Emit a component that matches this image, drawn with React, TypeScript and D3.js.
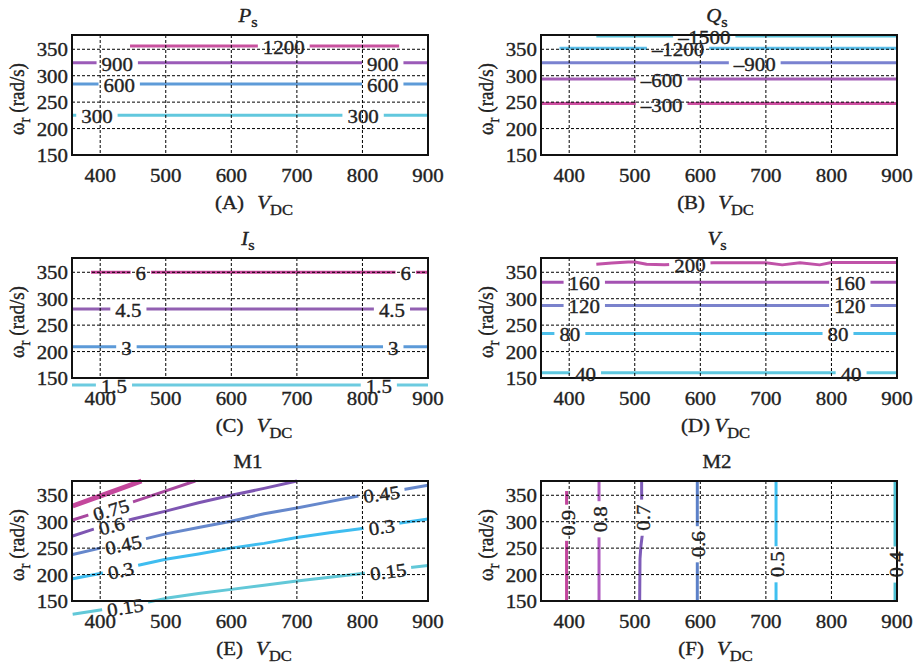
import React from 'react';
import * as d3 from 'd3';

// ---------- shared axes ----------
const X_DOMAIN: [number, number] = [357, 900];
const Y_DOMAIN: [number, number] = [150, 377];
const X_TICKS = [400, 500, 600, 700, 800, 900];
const Y_TICKS = [150, 200, 250, 300, 350];

type Pt = [number, number];
type Contour = { level: number; points: Pt[]; labelsAt: number[] };

// ---------- (A) Ps ----------
const PS_CONTOURS: Contour[] = [
  { level: 1200, points: [[445.5, 356], [856, 356]], labelsAt: [680] },
  { level: 900, points: [[357, 324.6], [900, 324.6]], labelsAt: [426, 831] },
  { level: 600, points: [[357, 284.3], [900, 284.3]], labelsAt: [429, 831] },
  { level: 300, points: [[357, 225.1], [900, 225.1]], labelsAt: [395, 801] },
];
// ---------- (B) Qs ----------
const QS_CONTOURS: Contour[] = [
  { level: -1500, points: [[441.4, 375.1], [900, 375.1]], labelsAt: [606] },
  { level: -1200, points: [[385.2, 351.8], [900, 351.8]], labelsAt: [566] },
  { level: -900, points: [[357, 324.6], [900, 324.6]], labelsAt: [683] },
  { level: -600, points: [[357, 293.9], [900, 293.9]], labelsAt: [541] },
  { level: -300, points: [[357, 247.2], [900, 247.2]], labelsAt: [541] },
];
// ---------- (C) Is ----------
const IS_CONTOURS: Contour[] = [
  { level: 6, points: [[386, 350], [900, 350]], labelsAt: [462, 866] },
  { level: 4.5, points: [[357, 280.3], [900, 280.3]], labelsAt: [443, 845] },
  { level: 3, points: [[357, 209], [900, 209]], labelsAt: [440, 847] },
  { level: 1.5, points: [[357, 136.8], [900, 136.8]], labelsAt: [421, 825] },
];
// ---------- (D) Vs ----------
const VS_CONTOURS: Contour[] = [
  {
    level: 200,
    points: [[441.4, 365], [465, 367.5], [490, 369.5], [500, 369.5], [518, 365], [545, 364], [584, 366], [620, 368], [700, 368],
      [725, 364], [752, 368], [782, 364], [800, 368.5], [900, 368.5]],
    labelsAt: [584],
  },
  { level: 160, points: [[357, 331], [900, 331]], labelsAt: [423, 828] },
  { level: 120, points: [[357, 287.3], [900, 287.3]], labelsAt: [423, 828] },
  { level: 80, points: [[357, 234.3], [900, 234.3]], labelsAt: [401, 810] },
  { level: 40, points: [[357, 160], [900, 160]], labelsAt: [425, 830] },
];
// ---------- (E) M1 ----------
const M1_CONTOURS: Contour[] = [
  { level: 0.9, points: [[358, 329.7], [410, 353], [463, 377]], labelsAt: [] },
  { level: 0.75, points: [[358, 303.3], [387.5, 314.7], [445.5, 335.5], [491, 354.4], [545, 377]], labelsAt: [416] },
  { level: 0.6, points: [[358, 273], [390, 286], [450, 305], [500, 320], [550, 336], [600, 350], [650, 363], [700, 377]], labelsAt: [417] },
  {
    level: 0.45,
    points: [[358, 238], [400, 250], [470, 268], [500, 277], [550, 289], [600, 301], [650, 315], [700, 326], [750, 338], [800, 350], [850, 358], [900, 369]],
    labelsAt: [435, 829],
  },
  {
    level: 0.3,
    points: [[358, 192], [400, 202], [460, 218], [500, 229], [550, 239], [600, 250], [650, 259], [700, 270], [750, 279], [800, 287], [850, 296], [900, 305]],
    labelsAt: [431, 829],
  },
  {
    level: 0.15,
    points: [[358, 125], [400, 133], [440, 141], [470, 147], [500, 155], [550, 164], [600, 172], [650, 180], [700, 188], [750, 195], [800, 202], [850, 210], [900, 217]],
    labelsAt: [438, 839],
  },
];
// ---------- (F) M2 ----------
const M2_CONTOURS: Contour[] = [
  { level: 0.9, points: [[396, 150], [396, 358]], labelsAt: [298] },
  { level: 0.8, points: [[445.5, 150], [445.5, 377]], labelsAt: [304.6] },
  { level: 0.7, points: [[507.5, 150], [508, 230], [509.5, 255], [511.5, 275], [510.5, 300], [510.5, 377]], labelsAt: [307.6] },
  { level: 0.6, points: [[595.4, 150], [595.4, 377]], labelsAt: [257.3] },
  { level: 0.5, points: [[715.5, 150], [715.5, 377]], labelsAt: [219.5] },
  { level: 0.4, points: [[897, 150], [897, 377]], labelsAt: [219] },
];

// ---------- styles ----------
const PS_COLORS = ['#c8509e', '#9b5bb8', '#5e9bd8', '#62c8de'];
const QS_COLORS = ['#5cc3d9', '#5bbfea', '#7a82d0', '#a35cb5', '#cc4ea0'];
const IS_COLORS = ['#c8449a', '#9260b2', '#5c9ad8', '#6ccbe0'];
const VS_COLORS = ['#c052a8', '#a452b2', '#7a82cc', '#4dbfea', '#5ec8e0'];
const M1_COLORS = ['#c4479c', '#a8489f', '#7e56b2', '#6688cc', '#3fbdf0', '#62c8d8'];
const M2_COLORS = ['#c2449c', '#b05cc0', '#7e5cb8', '#5b80c8', '#3fc0f0', '#4ec0d2'];

const FONT = "'Liberation Serif', 'DejaVu Serif', serif";
const FS = 19;
const SUB = 15;
const SX = 1.1;
const PAD = 5;
const PW = 356;
const PH = 120;
const COL_LEFT = [72, 541];
const ROW_TOP = [35, 258, 481];
const TXT = { fontFamily: FONT, whiteSpace: 'pre' as const, stroke: '#222', strokeWidth: 0.35 };

let ctx: CanvasRenderingContext2D | null = null;
function textW(s: string) {
  if (!ctx && typeof document !== 'undefined') ctx = document.createElement('canvas').getContext('2d');
  if (!ctx) return s.length * FS * 0.5 * SX;
  ctx.font = `${FS}px 'Liberation Serif', serif`;
  return ctx.measureText(s).width * SX;
}

function fmt(v: number) {
  return v < 0 ? '\u2013' + String(-v) : String(v);
}

function locate(pts: Pt[], at: number, axis: 'x' | 'y', xs: any, ys: any) {
  const k = axis === 'x' ? 0 : 1;
  for (let i = 0; i < pts.length - 1; i++) {
    const a = pts[i], b = pts[i + 1];
    const lo = Math.min(a[k], b[k]), hi = Math.max(a[k], b[k]);
    if (hi > lo && at >= lo && at <= hi) {
      const t = (at - a[k]) / (b[k] - a[k]);
      const x = a[0] + t * (b[0] - a[0]);
      const y = a[1] + t * (b[1] - a[1]);
      let ang = (Math.atan2(ys(b[1]) - ys(a[1]), xs(b[0]) - xs(a[0])) * 180) / Math.PI;
      if (ang >= 90) ang -= 180;
      if (ang < -90) ang += 180;
      return { px: xs(x), py: ys(y), ang };
    }
  }
  return null;
}

type PanelCfg = {
  key: string;
  col: number;
  row: number;
  title: { main: string; sub?: string; italic: boolean };
  contours: Contour[];
  colors: string[];
  labelAxis: 'x' | 'y';
  thick?: number;
  xgap: number;
};

const PANELS: PanelCfg[] = [
  { key: 'A', col: 0, row: 0, title: { main: 'P', sub: 's', italic: true }, contours: PS_CONTOURS, colors: PS_COLORS, labelAxis: 'x', xgap: 12 },
  { key: 'B', col: 1, row: 0, title: { main: 'Q', sub: 's', italic: true }, contours: QS_CONTOURS, colors: QS_COLORS, labelAxis: 'x', xgap: 12 },
  { key: 'C', col: 0, row: 1, title: { main: 'I', sub: 's', italic: true }, contours: IS_CONTOURS, colors: IS_COLORS, labelAxis: 'x', xgap: 12 },
  { key: 'D', col: 1, row: 1, title: { main: 'V', sub: 's', italic: true }, contours: VS_CONTOURS, colors: VS_COLORS, labelAxis: 'x', xgap: 4 },
  { key: 'E', col: 0, row: 2, title: { main: 'M1', italic: false }, contours: M1_CONTOURS, colors: M1_COLORS, labelAxis: 'x', thick: 0, xgap: 12 },
  { key: 'F', col: 1, row: 2, title: { main: 'M2', italic: false }, contours: M2_CONTOURS, colors: M2_COLORS, labelAxis: 'y', xgap: 12 },
];

function Panel({ cfg }: { cfg: PanelCfg }) {
  const left = COL_LEFT[cfg.col];
  const top = ROW_TOP[cfg.row];
  const bottom = top + PH;
  const xs = d3.scaleLinear().domain(X_DOMAIN).range([left, left + PW]);
  const ys = d3.scaleLinear().domain(Y_DOMAIN).range([bottom, top]);
  const line = d3.line<Pt>().x((d) => xs(d[0])).y((d) => ys(d[1]));

  const labels: { px: number; py: number; ang: number; text: string }[] = [];
  cfg.contours.forEach((c) =>
    c.labelsAt.forEach((a) => {
      const loc = locate(c.points, a, cfg.labelAxis, xs, ys);
      if (loc) labels.push({ ...loc, text: fmt(c.level) });
    })
  );
  const maskId = `mask-${cfg.key}`;
  const cx = left + PW / 2;
  const colShift = cfg.col === 0 ? 4 : -3.5;

  return (
    <g>
      <defs>
        <mask id={maskId} maskUnits="userSpaceOnUse" x={0} y={0} width={918} height={668}>
          <rect x={0} y={0} width={918} height={668} fill="#fff" />
          {labels.map((l, i) => {
            const tw = textW(l.text);
            return (
              <rect
                key={i}
                x={-tw / 2 - PAD}
                y={-7}
                width={tw + 2 * PAD}
                height={14}
                fill="#000"
                transform={`translate(${l.px},${l.py}) rotate(${l.ang})`}
              />
            );
          })}
        </mask>
      </defs>
      <g mask={`url(#${maskId})`}>
        {cfg.contours.map((c, ci) => (
          <path
            key={ci}
            d={line(c.points) || ''}
            fill="none"
            stroke={cfg.colors[ci]}
            strokeWidth={cfg.thick === ci ? 5 : 3}
            strokeLinejoin="round"
          />
        ))}
      </g>
      <g stroke="#000" strokeWidth={1} strokeDasharray="3,2">
        {X_TICKS.map((t) => (
          <line key={'x' + t} x1={xs(t)} x2={xs(t)} y1={top} y2={bottom} />
        ))}
        {Y_TICKS.map((t) => (
          <line key={'y' + t} x1={left} x2={left + PW} y1={ys(t)} y2={ys(t)} />
        ))}
      </g>
      <rect x={left} y={top} width={PW} height={PH} fill="none" stroke="#111" strokeWidth={2} />

      {labels.map((l, i) => (
        <g key={'l' + i} transform={`translate(${l.px},${l.py}) rotate(${l.ang})`}>
          <text transform={`scale(${SX},1)`} y={8} textAnchor="middle" fontSize={FS} fill="#222" style={TXT}>
            {l.text}
          </text>
        </g>
      ))}

      {X_TICKS.map((t) => (
        <text key={'xt' + t} transform={`translate(${xs(t)},${bottom + 27}) scale(${SX},1)`} textAnchor="middle" fontSize={FS} fill="#222" style={TXT}>
          {String(t)}
        </text>
      ))}
      {Y_TICKS.map((t) => (
        <text key={'yt' + t} transform={`translate(${left - 4},${ys(t) + 7}) scale(${SX},1)`} textAnchor="end" fontSize={FS} fill="#222" style={TXT}>
          {String(t)}
        </text>
      ))}

      {/* title */}
      <text transform={`translate(${cx - 2},${top - 13}) scale(${SX},1)`} textAnchor="middle" fontSize={FS} fill="#222" style={TXT}>
        <tspan fontStyle={cfg.title.italic ? 'italic' : 'normal'}>{cfg.title.main}</tspan>
        {cfg.title.sub ? (
          <tspan fontSize={SUB} dy={5}>
            {cfg.title.sub}
          </tspan>
        ) : null}
      </text>

      {/* x label */}
      <text transform={`translate(${cx + colShift},${bottom + 54}) scale(${SX},1)`} textAnchor="middle" fontSize={FS} fill="#222" style={TXT}>
        <tspan>({cfg.key})</tspan>
        <tspan dx={cfg.xgap} fontStyle="italic">V</tspan>
        <tspan fontSize={SUB} dy={6}>DC</tspan>
      </text>

      {/* y label */}
      <text
        transform={`translate(${left - 48},${top + PH / 2 + 4}) scale(${SX},1) rotate(-90)`}
        textAnchor="middle"
        fontSize={FS}
        fill="#222"
        style={TXT}
      >
        <tspan>ω</tspan>
        <tspan fontSize={SUB} dy={5}>r</tspan>
        <tspan dy={-5}> (rad/s)</tspan>
      </text>
    </g>
  );
}

export default function App() {
  return (
    <svg
      width={918}
      height={668}
      viewBox="0 0 918 668"
      style={{ position: 'absolute', left: 0, top: 0, background: '#fff', fontFamily: FONT }}
    >
      <rect x={0} y={0} width={918} height={668} fill="#fff" />
      {PANELS.map((p) => (
        <Panel key={p.key} cfg={p} />
      ))}
    </svg>
  );
}
